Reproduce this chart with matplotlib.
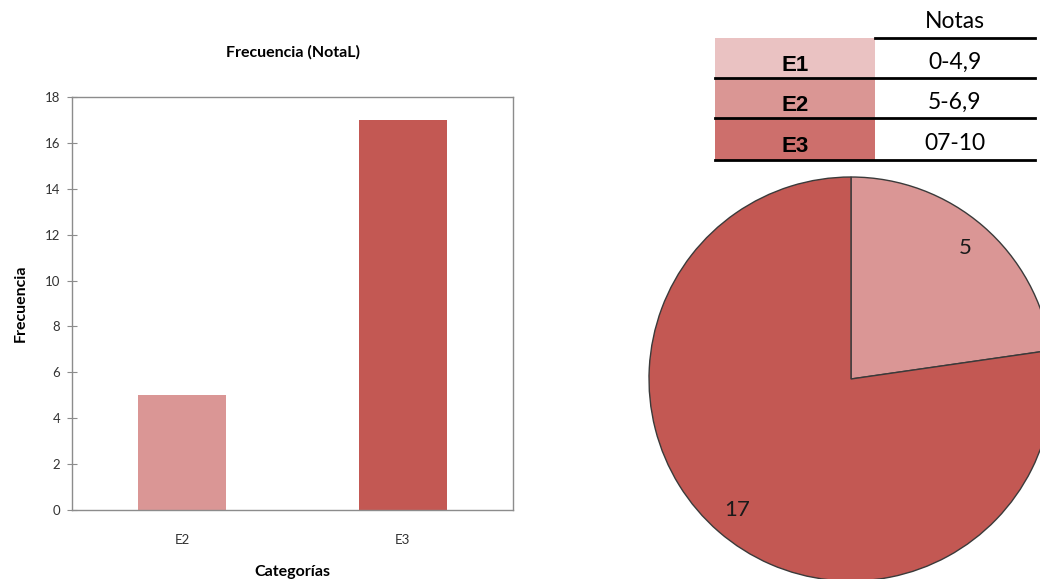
import numpy as np
import matplotlib
matplotlib.use("Agg")
import matplotlib.pyplot as plt
from matplotlib.lines import Line2D
from matplotlib.patches import Rectangle

plt.rcParams["font.family"] = "Lato"

# Data
categorias = ["E2", "E3"]
frecuencias = [5, 17]
bar_colors = ["#DA9695", "#C35853"]

tabla_codigos = ["E1", "E2", "E3"]
tabla_notas = ["0-4,9", "5-6,9", "07-10"]
tabla_colores = ["#EAC2C2", "#DA9694", "#CD6F6C"]

W, H = 1040, 579
fig = plt.figure(figsize=(W / 100, H / 100), dpi=100)
fig.patch.set_facecolor("white")


def px(x0, y0, x1, y1):
    # pixel box (top-left origin) -> figure fraction rect
    return [x0 / W, 1 - y1 / H, (x1 - x0) / W, (y1 - y0) / H]


# Bar chart
ax = fig.add_axes(px(72, 97, 513, 510))
x = np.arange(len(categorias))
ax.bar(x, frecuencias, width=0.4, color=bar_colors)
ax.set_xlim(-0.5, 1.5)
ax.set_ylim(0, 18)
ax.set_yticks(range(0, 19, 2))
ax.set_xticks(x)
ax.set_xticklabels(categorias)
for s in ax.spines.values():
    s.set_color("#8C8C8C")
    s.set_linewidth(1)
ax.tick_params(axis="y", direction="inout", length=7, color="#8C8C8C",
               labelsize=9.5, labelcolor="#333333", pad=5)
ax.tick_params(axis="x", length=0, labelsize=9.5, labelcolor="#333333", pad=17)
ax.set_title("Frecuencia (NotaL)", fontsize=11.5, fontweight="bold", pad=29)
ax.set_xlabel("Categorías", fontsize=11.5, fontweight="bold", labelpad=14)
ax.set_ylabel("Frecuencia", fontsize=11.5, fontweight="bold", labelpad=12)

# Pie chart (cropped by figure edge)
cx, cy, r = 851, 379, 203
pax = fig.add_axes(px(cx - r, cy - r, cx + r, cy + r))
pax.pie(frecuencias, colors=bar_colors, startangle=90, counterclock=False,
        labels=[str(v) for v in frecuencias], labeldistance=0.86,
        wedgeprops=dict(edgecolor="#3A3A3A", linewidth=1),
        textprops=dict(ha="center", va="center", fontsize=16, color="#1A1A1A"))
pax.set_xlim(-1.005, 1.005)
pax.set_ylim(-1.005, 1.005)
pax.axis("off")

# Table
x_l, x_m, x_r = 715, 875, 1035
row_edges = [38, 78, 118, 160]
fig.text((x_m + x_r) / 2 / W, 1 - 21 / H, "Notas", ha="center", va="center", fontsize=16.5)
for i, (cod, nota, col) in enumerate(zip(tabla_codigos, tabla_notas, tabla_colores)):
    y0, y1 = row_edges[i], row_edges[i + 1]
    fig.patches.append(Rectangle((x_l / W, 1 - y1 / H), (x_m - x_l) / W, (y1 - y0) / H,
                                 transform=fig.transFigure, facecolor=col, edgecolor="none"))
    yc = 1 - (y0 + y1) / 2 / H
    fig.text((x_l + x_m) / 2 / W, yc - 0.013, cod, ha="center", va="center",
             fontsize=16, fontweight="bold", family="Liberation Sans")
    fig.text((x_m + x_r) / 2 / W, yc - 0.008, nota, ha="center", va="center", fontsize=16.5)
fig.lines.append(Line2D([x_m / W, x_r / W], [1 - 38 / H] * 2, transform=fig.transFigure,
                        color="black", linewidth=2))
for ye in row_edges[1:]:
    fig.lines.append(Line2D([x_l / W, x_r / W], [1 - ye / H] * 2, transform=fig.transFigure,
                            color="black", linewidth=2))

fig.savefig("out.png", dpi=100)
